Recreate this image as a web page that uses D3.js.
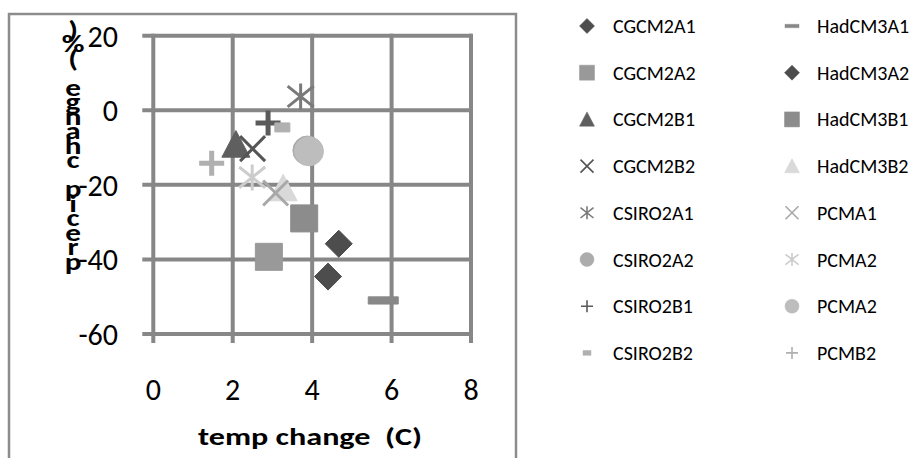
<!DOCTYPE html>
<html>
<head>
<meta charset="utf-8">
<script src="https://cdn.jsdelivr.net/npm/d3@7"></script>
<style>
    body { margin: 0; background: #fff; }
    svg { display: block; font-family: Carlito, Lato, "Open Sans", sans-serif; }
</style>
</head>
<body>
<div id="wrapper"></div>
<script>
// series, in legend order
const seriesNames = ["CGCM2A1", "CGCM2A2", "CGCM2B1", "CGCM2B2",
    "CSIRO2A1", "CSIRO2A2", "CSIRO2B1", "CSIRO2B2",
    "HadCM3A1", "HadCM3A2", "HadCM3B1", "HadCM3B2",
    "PCMA1", "PCMA2", "PCMA2", "PCMB2"];
const tempChange = [4.67, 2.91, 2.08, 2.5, 3.71, 3.88, 2.89, 3.25, 5.79, 4.4, 3.8, 3.27, 3.08, 2.49, 3.92, 1.47];
const precipChange = [-35.8, -39.3, -9.2, -10.3, 3.7, -10.8, -3.4, -4.6, -51, -44.6, -29, -20.9, -22.2, -18, -11, -14.2];

const xTicks = [0, 2, 4, 6, 8];
const yTicks = [20, 0, -20, -40, -60];

// marker look per series
const markerTypes = ["diamond", "square", "triangle", "x", "star", "circle", "plus", "smalldash",
    "dash", "diamond", "square", "triangle", "x", "star", "circle", "plus"];
const markerColors = ["#4d4d4d", "#999999", "#5f5f5f", "#555555", "#7a7a7a", "#acacac", "#5a5a5a", "#b0b0b0",
    "#888888", "#4d4d4d", "#8c8c8c", "#d9d9d9", "#a8a8a8", "#cccccc", "#bdbdbd", "#b0b0b0"];

let wSvg = 912;
let hSvg = 458;

let svg = d3.select("#wrapper")
    .append("svg")
    .attr("width", wSvg)
    .attr("height", hSvg);

// outer chart border (bottom runs off the picture)
svg.append("rect")
    .attr("x", 9).attr("y", 14)
    .attr("width", 507).attr("height", 460)
    .attr("fill", "none")
    .attr("stroke", "#8c8c8c")
    .attr("stroke-width", 2.5);

let xScale = d3.scaleLinear().domain([0, 8]).range([153.3, 471]);
let yScale = d3.scaleLinear().domain([-60, 20]).range([334, 35.7]);

let grid = svg.append("g").attr("stroke", "#878787").attr("stroke-width", 4);

grid.selectAll(".hline")
    .data(yTicks)
    .enter()
    .append("line")
    .attr("x1", xScale(0) - 11)
    .attr("x2", xScale(8) + 1)
    .attr("y1", d => yScale(d))
    .attr("y2", d => yScale(d));

grid.selectAll(".vline")
    .data(xTicks)
    .enter()
    .append("line")
    .attr("x1", d => xScale(d))
    .attr("x2", d => xScale(d))
    .attr("y1", yScale(20) - 2)
    .attr("y2", yScale(-60) + 9);

svg.selectAll(".ylab")
    .data(yTicks)
    .enter()
    .append("text")
    .attr("x", 118)
    .attr("y", d => yScale(d) + 11)
    .attr("text-anchor", "end")
    .attr("font-size", 30)
    .attr("fill", "#000")
    .text(d => d);

svg.selectAll(".xlab")
    .data(xTicks)
    .enter()
    .append("text")
    .attr("x", d => xScale(d))
    .attr("y", 400)
    .attr("text-anchor", "middle")
    .attr("font-size", 30)
    .attr("fill", "#000")
    .text(d => d);

// x title (glyphs come out wide in the original)
svg.append("text")
    .attr("x", 198)
    .attr("y", 445)
    .attr("font-size", 24)
    .attr("font-weight", "bold")
    .attr("xml:space", "preserve")
    .attr("textLength", 224)
    .attr("lengthAdjust", "spacingAndGlyphs")
    .text("temp change  (C)");

// y title, letters stacked upward and squeezed together
let yTitle = "precip change (%)";
let yt = svg.append("text")
    .attr("transform", "translate(73,0) scale(1.3,1)")
    .attr("font-size", 24)
    .attr("font-weight", "bold")
    .attr("text-anchor", "middle");
yt.selectAll("tspan")
    .data(yTitle.split(""))
    .enter()
    .append("tspan")
    .attr("x", 0)
    .attr("y", (d, i) => 270 - i * 14.5)
    .text(d => d);

function markerPath(type, s) {
    let h = s / 2;
    if (type === "diamond") return `M0,${-h}L${h},0L0,${h}L${-h},0Z`;
    if (type === "square") return `M${-h},${-h}H${h}V${h}H${-h}Z`;
    if (type === "triangle") return `M0,${-h}L${h},${h * 0.9}L${-h},${h * 0.9}Z`;
    if (type === "circle") return d3.symbol(d3.symbolCircle, Math.PI * h * h)();
    if (type === "x") return `M${-h},${-h}L${h},${h}M${h},${-h}L${-h},${h}`;
    if (type === "star") return `M${-h},${-h * 0.8}L${h},${h * 0.8}M${h},${-h * 0.8}L${-h},${h * 0.8}M0,${-h}V${h}`;
    if (type === "plus") return `M${-h},0H${h}M0,${-h}V${h}`;
    if (type === "dash") return `M${-h},${-s * 0.12}H${h}V${s * 0.12}H${-h}Z`;
    if (type === "smalldash") return `M${-h},${-s * 0.3}H${h}V${s * 0.3}H${-h}Z`;
}

function isStroked(type) {
    return type === "x" || type === "star" || type === "plus";
}

let plotSize = { diamond: 27, square: 27, triangle: 28, circle: 29, x: 25, star: 26, plus: 25, dash: 30, smalldash: 15 };
let legendSize = { diamond: 15, square: 15, triangle: 15, circle: 14, x: 13, star: 13, plus: 12, dash: 14, smalldash: 8 };

let points = seriesNames.map((name, i) => ({
    name: name,
    x: tempChange[i],
    y: precipChange[i],
    type: markerTypes[i],
    color: markerColors[i]
}));

svg.append("g")
    .selectAll("path")
    .data(points)
    .enter()
    .append("path")
    .attr("transform", d => `translate(${xScale(d.x)},${yScale(d.y)})`)
    .attr("d", d => markerPath(d.type, plotSize[d.type]))
    .attr("fill", d => isStroked(d.type) ? "none" : d.color)
    .attr("stroke", d => d.color)
    .attr("stroke-width", d => d.type === "plus" ? 5 : (isStroked(d.type) ? 3 : 1))
    .attr("stroke-linejoin", "round");

// legend, two columns of 8
let legend = svg.append("g")
    .selectAll("g")
    .data(points)
    .enter()
    .append("g")
    .attr("transform", (d, i) => `translate(${i < 8 ? 587 : 792},${26 + (i % 8) * 46.7})`);

legend.append("path")
    .attr("d", d => markerPath(d.type, legendSize[d.type]))
    .attr("fill", d => isStroked(d.type) ? "none" : d.color)
    .attr("stroke", d => d.color)
    .attr("stroke-width", d => isStroked(d.type) ? 1.6 : 0.5);

legend.append("text")
    .attr("x", (d, i) => i < 8 ? 26 : 25)
    .attr("y", 7)
    .attr("font-size", 20)
    .attr("fill", "#000")
    .text(d => d.name);
</script>
</body>
</html>
